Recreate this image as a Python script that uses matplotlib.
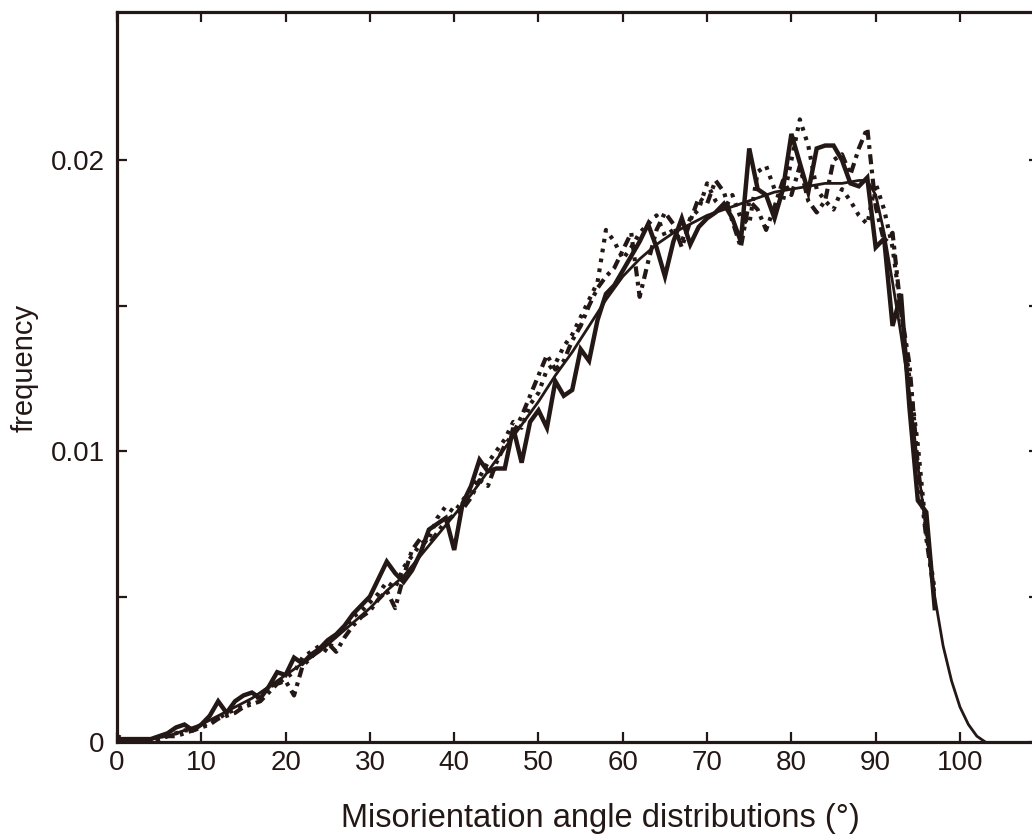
import matplotlib
matplotlib.use("Agg")
import matplotlib.pyplot as plt
import numpy as np

plt.rcParams['font.family'] = ['Liberation Sans', 'DejaVu Sans']

angles = list(range(0, 98))

series_solid = [0.0001, 0.0001, 0.0001, 0.0001, 0.0001, 0.0002, 0.0003, 0.0005, 0.0006, 0.0004,
                0.0006, 0.0009, 0.0014, 0.0010, 0.0014, 0.0016, 0.0017, 0.0015, 0.0019, 0.0024,
                0.0023, 0.0029, 0.0027, 0.0030, 0.0032, 0.0035, 0.0037, 0.0040, 0.0044, 0.0047,
                0.0050, 0.0056, 0.0062, 0.0058, 0.0055, 0.0059, 0.0065, 0.0073, 0.0075, 0.0077,
                0.0066, 0.0082, 0.0088, 0.0097, 0.0093, 0.0094, 0.0094, 0.0108, 0.0096, 0.0110,
                0.0114, 0.0108, 0.0124, 0.0119, 0.0121, 0.0135, 0.0131, 0.0145, 0.0154, 0.0157,
                0.0162, 0.0167, 0.0172, 0.0178, 0.0170, 0.0160, 0.0172, 0.0180, 0.0171, 0.0177,
                0.0180, 0.0182, 0.0185, 0.0180, 0.0172, 0.0204, 0.0190, 0.0188, 0.0180, 0.0190,
                0.0209, 0.0199, 0.0189, 0.0204, 0.0205, 0.0205, 0.0200, 0.0192, 0.0191, 0.0194,
                0.0170, 0.0173, 0.0143, 0.0154, 0.0115, 0.0083, 0.0079, 0.0046]

series_dotted = [0.0002, 0.0001, 0.0000, 0.0001, 0.0001, 0.0001, 0.0002, 0.0003, 0.0004, 0.0004,
                 0.0005, 0.0007, 0.0008, 0.0010, 0.0011, 0.0013, 0.0014, 0.0016, 0.0019, 0.0020,
                 0.0022, 0.0024, 0.0029, 0.0031, 0.0033, 0.0031, 0.0037, 0.0039, 0.0043, 0.0045,
                 0.0048, 0.0051, 0.0055, 0.0053, 0.0060, 0.0064, 0.0068, 0.0070, 0.0077, 0.0081,
                 0.0079, 0.0083, 0.0087, 0.0091, 0.0096, 0.0100, 0.0104, 0.0110, 0.0108, 0.0116,
                 0.0120, 0.0128, 0.0130, 0.0136, 0.0140, 0.0146, 0.0152, 0.0158, 0.0176, 0.0172,
                 0.0166, 0.0170, 0.0175, 0.0178, 0.0181, 0.0174, 0.0176, 0.0172, 0.0180, 0.0183,
                 0.0192, 0.0186, 0.0183, 0.0188, 0.0180, 0.0178, 0.0196, 0.0198, 0.0190, 0.0186,
                 0.0200, 0.0214, 0.0205, 0.0190, 0.0186, 0.0183, 0.0190, 0.0186, 0.0181, 0.0178,
                 0.0192, 0.0183, 0.0170, 0.0148, 0.0125, 0.0102, 0.0072, 0.0052]

series_dashdot = [0.0001, 0.0001, 0.0001, 0.0000, 0.0001, 0.0001, 0.0002, 0.0002, 0.0003, 0.0004,
                  0.0005, 0.0006, 0.0008, 0.0009, 0.0010, 0.0012, 0.0013, 0.0014, 0.0017, 0.0020,
                  0.0021, 0.0016, 0.0026, 0.0029, 0.0032, 0.0034, 0.0031, 0.0036, 0.0040, 0.0043,
                  0.0045, 0.0049, 0.0052, 0.0046, 0.0057, 0.0066, 0.0070, 0.0068, 0.0072, 0.0076,
                  0.0078, 0.0080, 0.0084, 0.0090, 0.0088, 0.0096, 0.0102, 0.0106, 0.0112, 0.0119,
                  0.0126, 0.0133, 0.0128, 0.0131, 0.0138, 0.0143, 0.0150, 0.0156, 0.0160, 0.0163,
                  0.0169, 0.0175, 0.0153, 0.0165, 0.0176, 0.0182, 0.0178, 0.0170, 0.0179, 0.0187,
                  0.0185, 0.0193, 0.0189, 0.0179, 0.0170, 0.0186, 0.0183, 0.0176, 0.0184, 0.0193,
                  0.0188, 0.0198, 0.0186, 0.0182, 0.0186, 0.0200, 0.0202, 0.0195, 0.0204, 0.0211,
                  0.0184, 0.0172, 0.0175, 0.0148, 0.0130, 0.0095, 0.0070, 0.0050]

fit_angles = [0, 2, 4, 6, 8, 10, 12, 14, 16, 18, 20, 22, 24, 26, 28, 30, 32, 34, 36, 38,
              40, 42, 44, 46, 48, 50, 52, 54, 56, 58, 60, 62, 64, 66, 68, 70, 72, 74, 76,
              78, 80, 82, 84, 86, 88, 89, 90, 91, 92, 93, 94, 95, 96, 97, 98, 99, 100,
              101, 102, 103]
fit_values = [0.0, 0.00003, 0.0001, 0.0002, 0.0004, 0.0006, 0.0009, 0.0012, 0.0015, 0.0019,
              0.0023, 0.0027, 0.0031, 0.0036, 0.0041, 0.0046, 0.0052, 0.0057, 0.0064, 0.0071,
              0.0078, 0.0085, 0.0093, 0.0101, 0.0109, 0.0117, 0.0126, 0.0134, 0.0143, 0.0152,
              0.0160, 0.0166, 0.0171, 0.0175, 0.0178, 0.0181, 0.0183, 0.0185, 0.0187, 0.0189,
              0.0190, 0.0191, 0.0192, 0.0192, 0.0193, 0.0193, 0.0188, 0.0175, 0.0158, 0.0140,
              0.0120, 0.0095, 0.0072, 0.0050, 0.0033, 0.0021, 0.0012, 0.0006, 0.0002, 0.0]

x_ticks = [0, 10, 20, 30, 40, 50, 60, 70, 80, 90, 100]
y_ticks = [0, 0.005, 0.01, 0.015, 0.02]
y_tick_labels = ['0', '', '0.01', '', '0.02']

ink = '#231815'

fig = plt.figure(figsize=(10.32, 8.38), dpi=100)
ax = fig.add_axes([117/1032, 1 - 742/838, (1039 - 117)/1032, (742 - 12)/838])

ax.plot(angles, series_dotted, color=ink, lw=3.0, linestyle=(0, (0.9, 1.5)),
        dash_capstyle='butt', solid_joinstyle='miter')
ax.plot(angles, series_dashdot, color=ink, lw=3.0, linestyle=(0, (2.4, 1.3, 0.9, 1.3)),
        dash_capstyle='butt')
ax.plot(fit_angles, fit_values, color=ink, lw=2.0, solid_joinstyle='round')
ax.plot(angles, series_solid, color=ink, lw=3.2, solid_joinstyle='miter')

ax.set_xlim(0, (1039 - 117) / 8.43)
ax.set_ylim(0, 0.02509)
ax.set_xticks(x_ticks)
ax.set_xticklabels([str(t) for t in x_ticks])
ax.set_yticks(y_ticks)
ax.set_yticklabels(y_tick_labels)

for s in ax.spines.values():
    s.set_linewidth(2.3)
    s.set_color(ink)

ax.tick_params(axis='both', direction='in', length=7, width=1.6, colors=ink,
               labelsize=20, top=True, right=True, labelcolor=ink)
ax.tick_params(axis='x', pad=6)
ax.tick_params(axis='y', pad=9)

ax.set_xlabel('Misorientation angle distributions (°)', fontsize=23.5, color=ink)
ax.xaxis.set_label_coords((600 - 117) / 922, -(818 - 742) / 730)
ax.xaxis.label.set_va('center')
ax.set_ylabel('frequency', fontsize=21, color=ink)
ax.yaxis.set_label_coords(-(117 - 25) / 922, (742 - 368) / 730)
ax.yaxis.label.set_va('center')

fig.savefig('out.png', dpi=100)
